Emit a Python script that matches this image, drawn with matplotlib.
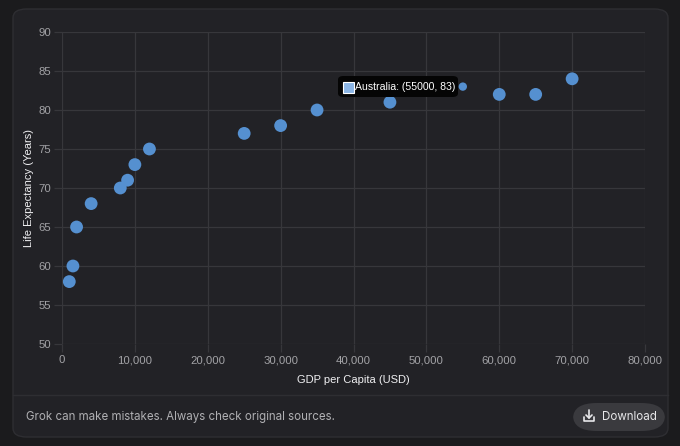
import numpy as np
import matplotlib
matplotlib.use('Agg')
import matplotlib.pyplot as plt
from matplotlib.patches import FancyBboxPatch, Rectangle
from matplotlib.ticker import FuncFormatter

### data
gdp = [1000, 1500, 2000, 4000, 8000, 9000, 10000, 12000,
       25000, 30000, 35000, 45000, 60000, 65000, 70000]
life_exp = [58, 60, 65, 68, 70, 71, 73, 75, 77, 78, 80, 81, 82, 82, 84]
hover_name = 'Australia'
hover_gdp = 55000
hover_life = 83

### colours
page_bg = '#1b1b1d'
card_bg = '#222226'
grid_col = '#37373b'
tick_col = '#a3a3a6'
dot_col = '#5590d0'

W, H = 680, 446
fig = plt.figure(figsize=(W/100., H/100.), dpi=100)
fig.patch.set_facecolor(page_bg)

def fx(px): return px/float(W)
def fy(py): return 1 - py/float(H)

# card behind everything
card = FancyBboxPatch((fx(13), fy(437)), fx(655), 428./H,
                      boxstyle='round,pad=0,rounding_size=0.02',
                      transform=fig.transFigure, facecolor=card_bg,
                      edgecolor='#2e2e32', linewidth=1, zorder=-5)
fig.add_artist(card)
fig.add_artist(plt.Line2D([fx(13), fx(668)], [fy(395), fy(395)],
                          transform=fig.transFigure, color='#2e2e32', lw=1,
                          zorder=-4))

ax = fig.add_axes([fx(62), fy(344), fx(645)-fx(62), fy(32)-fy(344)])
ax.set_zorder(1)
ax.patch.set_alpha(0)
for sp in ax.spines.values():
    sp.set_visible(False)

ax.scatter(gdp, life_exp, s=85, color=dot_col, edgecolor='none', zorder=3)
ax.scatter([hover_gdp], [hover_life], s=36, color=dot_col, edgecolor='none', zorder=3)

ax.set_xlim(0, 80000)
ax.set_ylim(50, 90)
ax.set_xticks(np.arange(0, 80001, 10000))
ax.set_yticks(np.arange(50, 91, 5))
ax.xaxis.set_major_formatter(FuncFormatter(lambda v, p: '{:,.0f}'.format(v)))
ax.grid(True, color=grid_col, lw=0.9, zorder=0)
ax.tick_params(colors=grid_col, labelcolor=tick_col, labelsize=8.2,
               length=6, width=0.9, pad=2)
for lab in ax.get_xticklabels() + ax.get_yticklabels():
    lab.set_fontfamily('Liberation Sans')

ax.set_xlabel('GDP per Capita (USD)', color='#f0f0f2', fontsize=8,
              family='Liberation Sans', labelpad=7)
ax.set_ylabel('Life Expectancy (Years)', color='#f0f0f2', fontsize=8,
              family='Liberation Sans', labelpad=3)

# tooltip
tip = FancyBboxPatch((fx(338), fy(97)), fx(120), 21./H,
                     boxstyle='round,pad=0,rounding_size=0.008',
                     transform=fig.transFigure, facecolor='#050505',
                     edgecolor='none', zorder=5)
fig.add_artist(tip)
fig.add_artist(Rectangle((fx(343), fy(92.5)), fx(11), 11./H,
                         transform=fig.transFigure, facecolor='#8bb5e6',
                         edgecolor='#ffffff', lw=0.8, zorder=6))
fig.text(fx(355), fy(87), '%s: (%d, %d)' % (hover_name, hover_gdp, hover_life),
         color='white', fontsize=7.6, family='Liberation Sans',
         va='center', ha='left', zorder=7)

# footer
fig.text(fx(26), fy(417), 'Grok can make mistakes. Always check original sources.',
         color='#b0b0b3', fontsize=8.3, family='Inter', va='center')
btn = FancyBboxPatch((fx(573), fy(431)), fx(92), 28./H,
                     boxstyle='round,pad=0,rounding_size=0.035',
                     transform=fig.transFigure, facecolor='#3a3a3e',
                     edgecolor='none', zorder=2)
fig.add_artist(btn)
fig.text(fx(602), fy(416.5), 'Download', color='#e8e8ea', fontsize=8.3,
         family='Inter', va='center', zorder=3)
# download icon
ix, iy = 589, 416
icon = dict(transform=fig.transFigure, color='#e8e8ea', lw=1.2, zorder=3,
            solid_capstyle='round')
fig.add_artist(plt.Line2D([fx(ix), fx(ix)], [fy(iy-6), fy(iy+2)], **icon))
fig.add_artist(plt.Line2D([fx(ix-3), fx(ix), fx(ix+3)],
                          [fy(iy-1), fy(iy+2), fy(iy-1)], **icon))
fig.add_artist(plt.Line2D([fx(ix-5), fx(ix-5), fx(ix+5), fx(ix+5)],
                          [fy(iy+1), fy(iy+5), fy(iy+5), fy(iy+1)], **icon))

fig.savefig('out.png', dpi=100, facecolor=page_bg)
